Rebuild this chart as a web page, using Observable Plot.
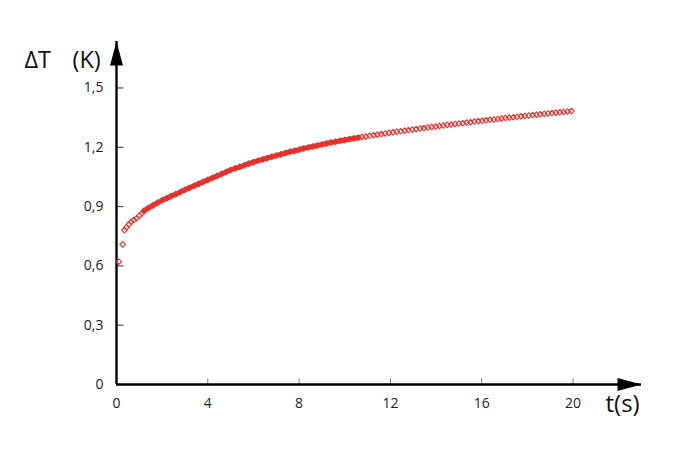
<!DOCTYPE html>
<html>
<head>
<meta charset="utf-8">
<script src="https://cdn.jsdelivr.net/npm/d3@7"></script>
<script src="https://cdn.jsdelivr.net/npm/@observablehq/plot@0.6"></script>
<style>
  body { margin: 0; background: #fff; }
</style>
</head>
<body>
<div id="chart"></div>
<script>
// ---- Data ----
const earlyTime = [0.10, 0.27, 0.35, 0.44, 0.54, 0.64, 0.76, 0.88, 1.00, 1.12];
const earlyDT   = [0.621, 0.709, 0.781, 0.795, 0.810, 0.823, 0.832, 0.841, 0.854, 0.866];

const denseTime = [1.2, 1.4, 1.6, 1.8, 2.0, 2.2, 2.4, 2.6, 2.8, 3.0, 3.2, 3.4, 3.6, 3.8, 4.0,
  4.2, 4.4, 4.6, 4.8, 5.0, 5.2, 5.4, 5.6, 5.8, 6.0, 6.2, 6.4, 6.6, 6.8, 7.0, 7.2, 7.4, 7.6,
  7.8, 8.0, 8.2, 8.4, 8.6, 8.8, 9.0, 9.2, 9.4, 9.6, 9.8, 10.0, 10.2, 10.4, 10.6];
const denseDT = [0.878, 0.893, 0.906, 0.919, 0.932, 0.942, 0.953, 0.963, 0.974, 0.985, 0.995,
  1.005, 1.015, 1.025, 1.035, 1.045, 1.055, 1.065, 1.075, 1.085, 1.093, 1.101, 1.109, 1.117,
  1.125, 1.132, 1.139, 1.145, 1.152, 1.158, 1.164, 1.171, 1.177, 1.182, 1.188, 1.194, 1.199,
  1.204, 1.209, 1.214, 1.219, 1.224, 1.228, 1.233, 1.237, 1.241, 1.245, 1.249];

const tailTime = [10.75, 10.92, 11.09, 11.26, 11.43, 11.60, 11.77, 11.94, 12.11, 12.28, 12.45,
  12.62, 12.79, 12.96, 13.13, 13.30, 13.47, 13.64, 13.81, 13.98, 14.15, 14.32, 14.49, 14.66,
  14.83, 15.00, 15.17, 15.34, 15.51, 15.68, 15.85, 16.02, 16.19, 16.36, 16.53, 16.70, 16.87,
  17.04, 17.21, 17.38, 17.55, 17.72, 17.89, 18.06, 18.23, 18.40, 18.57, 18.74, 18.91, 19.08,
  19.25, 19.42, 19.59, 19.76, 19.93];
const tailDT = [1.252, 1.255, 1.258, 1.261, 1.264, 1.267, 1.270, 1.273, 1.276, 1.279, 1.281,
  1.284, 1.287, 1.289, 1.292, 1.295, 1.297, 1.300, 1.303, 1.305, 1.308, 1.310, 1.313, 1.315,
  1.318, 1.320, 1.322, 1.325, 1.327, 1.330, 1.332, 1.334, 1.337, 1.339, 1.341, 1.343, 1.346,
  1.348, 1.350, 1.352, 1.354, 1.357, 1.359, 1.361, 1.363, 1.365, 1.367, 1.369, 1.371, 1.373,
  1.375, 1.377, 1.379, 1.381, 1.383];

const xTicks = [0, 4, 8, 12, 16, 20];
const xTickLabels = ["0", "4", "8", "12", "16", "20"];
const yTicks = [0, 0.3, 0.6, 0.9, 1.2, 1.5];
const yTickLabels = ["0", "0,3", "0,6", "0,9", "1,2", "1,5"];
const xDomain = [0, 23];
const yDomain = [0, 1.735];
const yTitleParts = ["ΔT", "(K)"];
const xTitle = "t(s)";

// ---- Build tables ----
const rows = (t, v) => t.map((d, i) => ({t: d, dT: v[i]}));
const early = rows(earlyTime, earlyDT);
const dense = rows(denseTime, denseDT);
const tail = rows(tailTime, tailDT);
const allPts = [...early, ...dense, ...tail];

const red = "#e8312c";
const font = "'Open Sans', 'Noto Sans', sans-serif";

// custom symbols
const arrowHead = {draw(ctx) { ctx.moveTo(0, 0); ctx.lineTo(-24, -6.5); ctx.lineTo(-24, 6.5); ctx.closePath(); }};
const tickUp = {draw(ctx) { ctx.moveTo(0, 0); ctx.lineTo(0, -6); }};
const tickRight = {draw(ctx) { ctx.moveTo(0, 0); ctx.lineTo(7, 0); }};

const chart = Plot.plot({
  width: 700,
  height: 464,
  marginLeft: 116,
  marginRight: 59,
  marginTop: 41,
  marginBottom: 80,
  style: {fontFamily: font, background: "#fff", overflow: "visible"},
  x: {domain: xDomain},
  y: {domain: yDomain},
  marks: [
    // tick labels
    Plot.axisX({ticks: xTicks, tickFormat: d => xTickLabels[xTicks.indexOf(d)], label: null, tickSize: 0, tickPadding: 14, fontSize: 14, fill: "#222"}),
    Plot.axisY({ticks: yTicks, tickFormat: d => yTickLabels[yTicks.indexOf(d)], label: null, tickSize: 0, tickPadding: 13, fontSize: 14, fill: "#222"}),
    // small tick marks
    Plot.dot(xTicks.slice(1), {x: d => d, y: xTicks.slice(1).map(() => 0), symbol: tickUp, stroke: "#777", strokeWidth: 1, fill: "none"}),
    Plot.dot(yTicks.slice(1), {x: yTicks.slice(1).map(() => 0), y: d => d, symbol: tickRight, stroke: "#555", strokeWidth: 1.2, fill: "none"}),
    // axis lines
    Plot.ruleY([0], {stroke: "#000", strokeWidth: 2.4}),
    Plot.ruleX([0], {stroke: "#000", strokeWidth: 2.4}),
    // arrow heads
    Plot.dot([{t: xDomain[1], v: 0, r: 0}, {t: 0, v: yDomain[1], r: -90}], {x: "t", y: "v", rotate: "r", symbol: arrowHead, fill: "#000", stroke: "none"}),
    // data
    Plot.line(dense, {x: "t", y: "dT", stroke: red, strokeWidth: 5, curve: "catmull-rom"}),
    Plot.dot(allPts, {x: "t", y: "dT", symbol: "diamond2", r: 2.5, stroke: red, strokeWidth: 1.1, fill: "none"}),
    // titles
    Plot.text([yTitleParts[0]], {frameAnchor: "top-left", dx: -92, dy: 10, textAnchor: "start", fontSize: 23.5, fill: "#111"}),
    Plot.text([yTitleParts[1]], {frameAnchor: "top-left", dx: -44, dy: 10, textAnchor: "start", fontSize: 23.5, fill: "#111"}),
    Plot.text([xTitle], {frameAnchor: "bottom-right", dx: -36, dy: 27, textAnchor: "start", fontSize: 24, fill: "#111"})
  ]
});
document.getElementById("chart").appendChild(chart);
</script>
</body>
</html>
